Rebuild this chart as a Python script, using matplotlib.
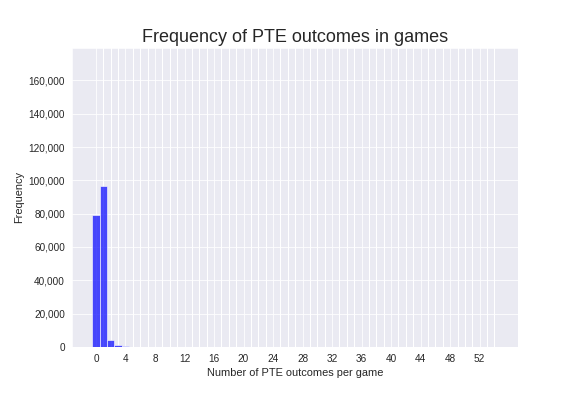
import numpy as np
import matplotlib
matplotlib.use("Agg")
import matplotlib.pyplot as plt
import seaborn as sns
from matplotlib.ticker import FuncFormatter

# Data (one bin per outcome count)
outcomes = list(range(0, 55))
counts = [79300, 96900, 4200, 900, 800] + [0] * 50

sns.set_style("darkgrid")
plt.rcParams["font.family"] = ["Liberation Sans", "DejaVu Sans"]

fig, ax = plt.subplots(figsize=(8, 5.5), dpi=72)
fig.subplots_adjust(left=0.125, right=0.9, top=0.88, bottom=0.124)

ax.bar(outcomes, counts, width=1.0, color="blue", alpha=0.7,
       edgecolor="white", linewidth=0.8)

ax.set_ylim(0, 179800)
ax.set_xticks(range(0, 55, 4))
ax.set_xticks(outcomes, minor=True)
ax.grid(which="minor", axis="x", color="white", linewidth=1)
ax.yaxis.set_major_formatter(FuncFormatter(lambda v, p: "{:,.0f}".format(v)))
ax.tick_params(labelsize=10, colors=".15")
ax.tick_params(which="minor", length=0)

ax.set_title("Frequency of PTE outcomes in games", fontsize=18, color=".15")
ax.set_xlabel("Number of PTE outcomes per game", fontsize=11, color=".15")
ax.set_ylabel("Frequency", fontsize=11, color=".15")

fig.savefig("out.png", dpi=72)
